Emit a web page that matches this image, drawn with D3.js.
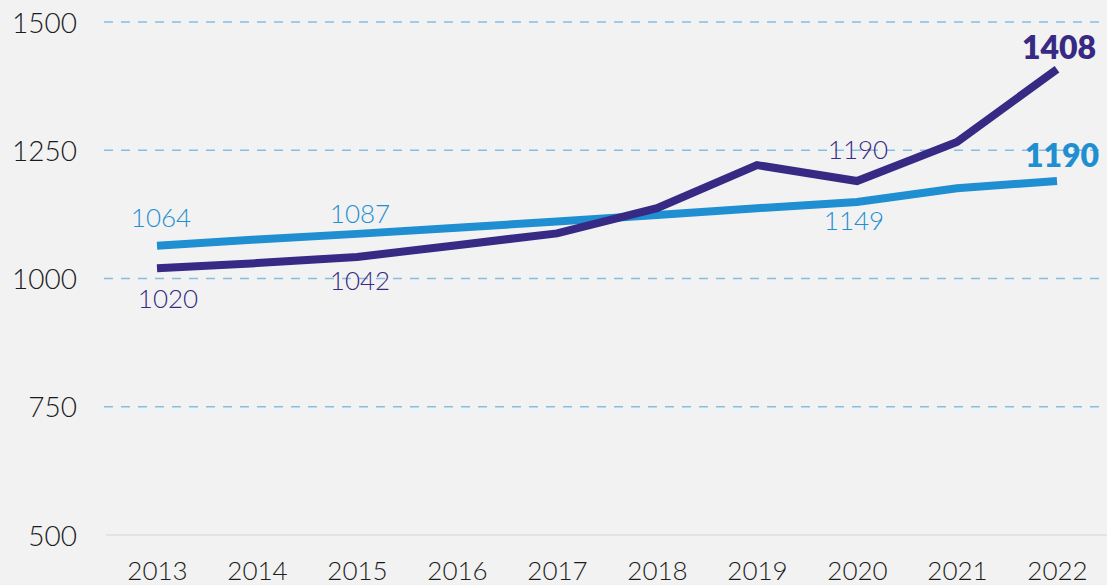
<!DOCTYPE html>
<html>
<head>
<meta charset="utf-8">
<script src="https://cdn.jsdelivr.net/npm/d3@7"></script>
<style>
  html, body { margin: 0; padding: 0; background: #f2f2f2; }
  svg { display: block; font-family: Lato, "Open Sans", sans-serif; }
</style>
</head>
<body>
<svg id="chart" width="1107" height="585"></svg>
<script>
// Years on the horizontal axis
const years = [2013, 2014, 2015, 2016, 2017, 2018, 2019, 2020, 2021, 2022];
// Purple series
const seriesA = [1020, 1030, 1042, 1065, 1088, 1137, 1221, 1190, 1266, 1408];
// Blue series
const seriesB = [1064, 1076, 1087, 1099, 1111, 1124, 1137, 1149, 1176, 1190];
// Y axis ticks
const yTicks = [500, 750, 1000, 1250, 1500];

// Value callouts: which series, which year index
const callouts = [
  { series: "B", i: 0, dx: 4,  dy: -19, bold: false },
  { series: "B", i: 2, dx: 3,  dy: -11, bold: false },
  { series: "A", i: 0, dx: 11, dy: 40,  bold: false },
  { series: "A", i: 2, dx: 3,  dy: 33,  bold: false },
  { series: "A", i: 7, dx: 1,  dy: -22, bold: false },
  { series: "B", i: 7, dx: -3, dy: 28,  bold: false },
  { series: "A", i: 9, dx: 2,  dy: -10, bold: true },
  { series: "B", i: 9, dx: 5,  dy: -14, bold: true }
];

const colors = { A: "#372a84", B: "#1f8fd2" };
const dataBySeries = { A: seriesA, B: seriesB };

const svg = d3.select("#chart");
const W = 1107, H = 585;

const x = d3.scalePoint().domain(years).range([157, 1057]);
const y = d3.scaleLinear().domain([500, 1500]).range([535, 22]);

// Dashed horizontal gridlines (except baseline)
svg.append("g")
  .selectAll("line")
  .data(yTicks.filter(d => d !== 500))
  .join("line")
  .attr("x1", 104).attr("x2", W)
  .attr("y1", d => y(d)).attr("y2", d => y(d))
  .attr("stroke", "#86bde4")
  .attr("stroke-width", 1.3)
  .attr("stroke-dasharray", "9,8");

// Baseline
svg.append("line")
  .attr("x1", 106).attr("x2", W)
  .attr("y1", y(500)).attr("y2", y(500))
  .attr("stroke", "#e3e3e3").attr("stroke-width", 2);

// Y axis labels
const yAxis = d3.axisLeft(y).tickValues(yTicks).tickSize(0).tickPadding(0).tickFormat(d3.format("d"));
const gy = svg.append("g").attr("transform", "translate(77,0)").call(yAxis);
gy.select(".domain").remove();
gy.selectAll("text")
  .attr("font-family", "Lato, sans-serif")
  .attr("font-size", 28)
  .attr("font-weight", 300)
  .attr("fill", "#1b1b1b")
  .attr("dy", "0.36em");

// X axis labels
const xAxis = d3.axisBottom(x).tickSize(0).tickPadding(0).tickFormat(d3.format("d"));
const gx = svg.append("g").attr("transform", "translate(0,562)").call(xAxis);
gx.select(".domain").remove();
gx.selectAll("text")
  .attr("font-family", "Lato, sans-serif")
  .attr("font-size", 26)
  .attr("font-weight", 300)
  .attr("fill", "#1b1b1b")
  .attr("dy", "0.7em");

// Lines
const line = d3.line().x((d, i) => x(years[i])).y(d => y(d));
["B", "A"].forEach(k => {
  svg.append("path")
    .datum(dataBySeries[k])
    .attr("d", line)
    .attr("fill", "none")
    .attr("stroke", colors[k])
    .attr("stroke-width", 8)
    .attr("stroke-linejoin", "miter");
});

// Value callouts
svg.append("g")
  .selectAll("text")
  .data(callouts)
  .join("text")
  .attr("x", d => x(years[d.i]) + d.dx)
  .attr("y", d => y(dataBySeries[d.series][d.i]) + d.dy)
  .attr("text-anchor", "middle")
  .attr("font-family", "Lato, sans-serif")
  .attr("font-size", d => d.bold ? 32 : 26)
  .attr("font-weight", d => d.bold ? 800 : 300)
  .attr("fill", d => colors[d.series])
  .text(d => dataBySeries[d.series][d.i]);
</script>
</body>
</html>
